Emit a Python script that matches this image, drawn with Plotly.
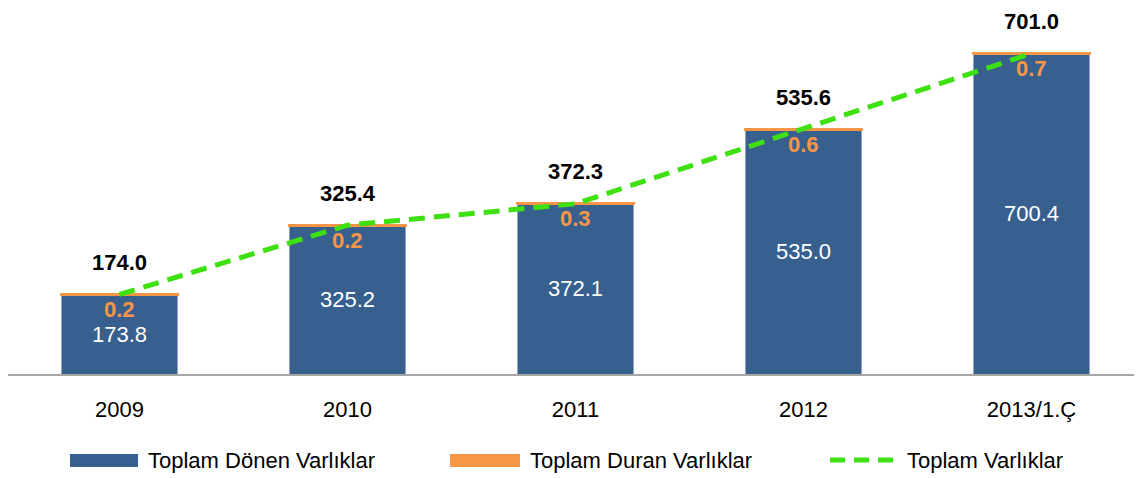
import plotly.graph_objects as go

years = ["2009", "2010", "2011", "2012", "2013/1.Ç"]
donen = [173.8, 325.2, 372.1, 535.0, 700.4]
duran = [0.2, 0.2, 0.3, 0.6, 0.7]
toplam = [174.0, 325.4, 372.3, 535.6, 701.0]
legend_names = ["Toplam Dönen Varlıklar", "Toplam Duran Varlıklar", "Toplam Varlıklar"]

BLUE = "#38608F"
ORANGE = "#F79646"
GREEN = "#3EE012"
FONT = "Liberation Sans Narrow, Arial Narrow, Liberation Sans, Arial, sans-serif"
FS = 22

OFF = 8  # page body margin
W, H = 1134, 470
ML, MR, MT, MB = 0, 0, 10, 104
PW, PH = W - ML - MR, H - MT - MB
CAT_PX = 228.0
X0 = -(119.5 - OFF - ML) / CAT_PX
X1 = X0 + PW / CAT_PX


def px(x):
    return (x - OFF - ML) / PW


def py(y):
    return (H - MB - (y - OFF)) / PH


fig = go.Figure()
fig.add_trace(go.Bar(
    x=years, y=donen, name=legend_names[0], marker_color=BLUE,
    text=[f"{v:.1f}" for v in donen], textposition="inside",
    insidetextanchor="middle", textangle=0,
    textfont=dict(color="white", size=FS, family=FONT), showlegend=False,
))
fig.add_trace(go.Bar(
    x=years, y=duran, name=legend_names[1],
    marker=dict(color=ORANGE, line=dict(color=ORANGE, width=3)),
    showlegend=False,
))
fig.add_trace(go.Scatter(
    x=years, y=toplam, name=legend_names[2], mode="lines",
    line=dict(color=GREEN, width=5, dash="16px,9px"), showlegend=False,
))

annotations = []
for i, (t, d) in enumerate(zip(toplam, duran)):
    annotations.append(dict(x=i, y=t, text=f"<b>{t:.1f}</b>", showarrow=False,
                            yanchor="middle", yshift=32,
                            font=dict(size=FS, color="black", family=FONT)))
    annotations.append(dict(x=i, y=t, text=f"<b>{d:.1f}</b>", showarrow=False,
                            yanchor="middle", yshift=-15,
                            font=dict(size=FS, color=ORANGE, family=FONT)))

# manual legend
leg_y = 460
shapes = [
    dict(type="rect", xref="paper", yref="paper", x0=px(70), x1=px(138),
         y0=py(467), y1=py(454), fillcolor=BLUE, line=dict(width=0)),
    dict(type="rect", xref="paper", yref="paper", x0=px(450), x1=px(520),
         y0=py(467), y1=py(454), fillcolor=ORANGE, line=dict(width=0)),
    dict(type="line", xref="paper", yref="paper", x0=px(830), x1=px(893),
         y0=py(leg_y), y1=py(leg_y), line=dict(color=GREEN, width=5, dash="15px,9px")),
]
for name, x0 in zip(legend_names, [146, 528, 905]):
    annotations.append(dict(xref="paper", yref="paper", x=px(x0), y=py(leg_y),
                            text=name, showarrow=False, xanchor="left", yanchor="middle",
                            font=dict(size=FS, color="black", family=FONT)))

fig.update_layout(
    width=W, height=H,
    margin=dict(l=ML, r=MR, t=MT, b=MB),
    barmode="stack", bargap=0.487,
    plot_bgcolor="white", paper_bgcolor="white",
    showlegend=False,
    annotations=annotations, shapes=shapes,
    xaxis=dict(type="category", range=[X0, X1], showline=True, linecolor="#A6A6A6",
               linewidth=2, ticks="", showgrid=False,
               tickfont=dict(size=FS, color="black", family=FONT),
               ticklabelstandoff=15),
    yaxis=dict(visible=False, range=[0, 778.5], showgrid=False),
)

fig.write_html("out.html")
